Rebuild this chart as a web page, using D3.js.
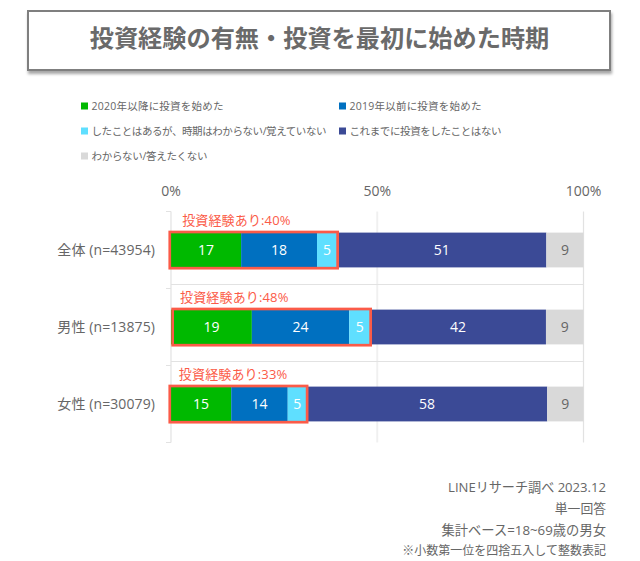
<!DOCTYPE html>
<html><head><meta charset="utf-8">
<script src="https://cdnjs.cloudflare.com/ajax/libs/d3/7.8.5/d3.min.js"></script>
<style>html,body{margin:0;padding:0;background:#fff}svg{display:block}
text{font-family:"Open Sans","Noto Sans CJK JP",sans-serif}</style></head><body>
<script>
const titleText = "投資経験の有無・投資を最初に始めた時期";
const categories = ["全体 (n=43954)", "男性 (n=13875)", "女性 (n=30079)"];
const seriesNames = ["2020年以降に投資を始めた","2019年以前に投資を始めた","したことはあるが、時期はわからない/覚えていない","これまでに投資をしたことはない","わからない/答えたくない"];
const seriesColors = ["#00b900","#0070c0","#5fdfff","#3b4a96","#d9d9d9"];
const labelColors = ["#fff","#fff","#fff","#fff","#666"];
const row0 = [17, 18.4, 4.9, 50.7, 9];
const row1 = [19.6, 23.6, 5.1, 42.6, 9.1];
const row2 = [14.6, 13.7, 4.6, 58.3, 8.8];
const rows = [row0,row1,row2];
const labels0 = [17,18,5,51,9];
const labels1 = [19,24,5,42,9];
const labels2 = [15,14,5,58,9];
const rowLabels = [labels0,labels1,labels2];
const experience = ["投資経験あり:40%","投資経験あり:48%","投資経験あり:33%"];
const boxStart = [-0.3,0.4,-0.3];
const boxEnd = [40.4,48.4,33.0];
const tickValues = [0,50,100];
const notes = ["LINEリサーチ調べ 2023.12","単一回答","集計ベース=18~69歳の男女","※小数第一位を四捨五入して整数表記"];

const svg = d3.select("body").append("svg").attr("width",640).attr("height",561);
const x = d3.scaleLinear().domain([0,100]).range([171,583.5]);
const y = d3.scaleBand().domain(categories).range([211.5,442.5]);
const barH = 34.8, gray = "#666", red = "#fb5b48", gridC = "#e2e2e2";

// title box
const f = svg.append("defs").append("filter").attr("id","sh").attr("x","-5%").attr("y","-20%").attr("width","110%").attr("height","150%");
f.append("feDropShadow").attr("dx",1).attr("dy",3).attr("stdDeviation",1.8).attr("flood-color","#000").attr("flood-opacity",.35);
svg.append("rect").attr("x",28).attr("y",11).attr("width",582).attr("height",59)
  .attr("fill","#fff").attr("stroke","#7f7f7f").attr("stroke-width",2).attr("filter","url(#sh)");
svg.append("text").attr("x",319.5).attr("y",47).attr("text-anchor","middle")
  .attr("font-size",24.2).attr("font-weight",700).attr("fill","#6a6a6a").text(titleText);

// legend
const legCols = [81,339], legRows = [106,131,156], legFit = [132,132,235,152,116];
seriesNames.forEach((n,i)=>{
  const lx = legCols[i%2], ly = legRows[Math.floor(i/2)];
  svg.append("rect").attr("x",lx).attr("y",ly-3.5).attr("width",7).attr("height",7).attr("fill",seriesColors[i]);
  svg.append("text").attr("x",lx+10.5).attr("y",ly).attr("dy","0.35em").attr("font-size",10.5).attr("fill",gray)
    .attr("textLength",legFit[i]).attr("lengthAdjust","spacing").text(n);
});

// grid
const yTop = y.range()[0], yBot = y.range()[1];
svg.selectAll("line.v").data(tickValues).join("line").attr("class","v")
  .attr("x1",d=>x(d)).attr("x2",d=>x(d)).attr("y1",yTop).attr("y2",yBot)
  .attr("stroke",d=>d===50?"#f0f0f0":gridC).attr("stroke-width",d=>d===50?2:1.2);
svg.selectAll("line.h").data(categories.slice(1)).join("line").attr("class","h")
  .attr("x1",x(0)).attr("x2",x(100)).attr("y1",d=>y(d)-4).attr("y2",d=>y(d)-4)
  .attr("stroke",gridC).attr("stroke-width",1.2);
const tickYs = [yTop, y(categories[1]), y(categories[2]), yBot];
svg.selectAll("line.t").data(tickYs).join("line").attr("class","t")
  .attr("x1",x(0)-5).attr("x2",x(0)).attr("y1",d=>d).attr("y2",d=>d)
  .attr("stroke",gridC).attr("stroke-width",1);

// tick labels
svg.selectAll("text.tick").data(tickValues).join("text").attr("class","tick")
  .attr("x",d=>x(d)).attr("y",191).attr("dy","0.35em").attr("text-anchor","middle")
  .attr("font-size",14).attr("fill",gray).text(d=>d+"%");

// bars
const expStart = [2.7,2.2,1.9];
categories.forEach((c,ri)=>{
  const cy = y(c)+y.bandwidth()/2;
  const stack = d3.cumsum(rows[ri]);
  rows[ri].forEach((v,si)=>{
    const x0 = x(stack[si]-v), x1 = x(stack[si]);
    svg.append("rect").attr("x",x0).attr("y",cy-barH/2).attr("width",x1-x0).attr("height",barH).attr("fill",seriesColors[si]);
    svg.append("text").attr("x",(x0+x1)/2).attr("y",cy).attr("dy","0.35em").attr("text-anchor","middle")
      .attr("font-size",14).attr("fill",labelColors[si]).text(rowLabels[ri][si]);
  });
  svg.append("rect").attr("x",x(boxStart[ri])).attr("y",cy-barH/2-0.6).attr("width",x(boxEnd[ri])-x(boxStart[ri])).attr("height",barH+1.4)
    .attr("fill","none").attr("stroke",red).attr("stroke-width",2.7);
  svg.append("text").attr("x",x(expStart[ri])).attr("y",cy-barH/2-12).attr("dy","0.35em")
    .attr("font-size",13).attr("letter-spacing",0.15).attr("fill",red).text(experience[ri]);
  svg.append("text").attr("x",155).attr("y",cy).attr("dy","0.35em").attr("text-anchor","end")
    .attr("font-size",14).attr("letter-spacing",0.1).attr("fill",gray).text(c);
});

// notes
const noteYs = [487,508.5,530,551], noteSizes = [13.1,12.8,13.3,12];
notes.forEach((n,i)=>svg.append("text").attr("x",606).attr("y",noteYs[i]).attr("dy","0.35em").attr("text-anchor","end")
  .attr("font-size",noteSizes[i]).attr("fill",gray).text(n));
</script></body></html>
